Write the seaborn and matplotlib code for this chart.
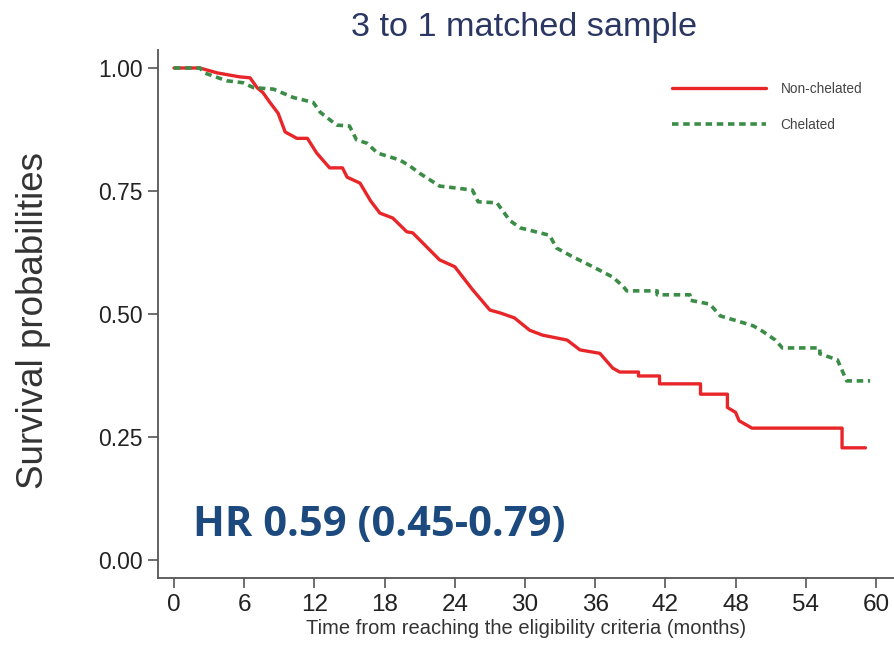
import pandas as pd
import seaborn as sns
import matplotlib.pyplot as plt

# Kaplan-Meier curves (months, survival probability)
non_chel_time = [0, 2.2, 3.7, 5.6, 6.5, 7.1, 7.6, 8.2, 8.9, 9.5, 10.5, 11.4, 12.2, 13.3, 14.4,
                 14.8, 15.9, 16.8, 17.6, 18.7, 19.9, 20.4, 22.7, 24.0, 25.5, 27.0, 27.9, 29.1,
                 30.4, 31.5, 33.6, 34.7, 36.4, 37.5, 38.1, 39.7, 39.7, 41.5, 41.5, 45.0, 45.0,
                 47.3, 47.3, 48.0, 48.3, 49.4, 57.1, 57.1, 59.1]
non_chel_surv = [1.0, 1.0, 0.99, 0.982, 0.98, 0.96, 0.95, 0.93, 0.908, 0.87, 0.857, 0.857, 0.827,
                 0.797, 0.797, 0.778, 0.766, 0.73, 0.705, 0.695, 0.667, 0.665, 0.61, 0.596, 0.55,
                 0.508, 0.502, 0.492, 0.467, 0.457, 0.447, 0.427, 0.42, 0.39, 0.382, 0.382, 0.374,
                 0.374, 0.358, 0.358, 0.337, 0.337, 0.31, 0.30, 0.283, 0.268, 0.268, 0.228, 0.228]

chel_time = [0, 2.2, 2.6, 4.5, 5.9, 6.8, 8.5, 10.2, 11.9, 12.5, 13.9, 15.0, 15.6, 16.5, 17.4,
             19.3, 20.2, 21.0, 22.7, 25.5, 26.0, 27.6, 28.7, 29.6, 32.1, 32.7, 34.1, 35.8, 37.5,
             38.4, 38.7, 41.3, 41.3, 44.1, 44.1, 45.8, 46.7, 48.4, 49.5, 50.3, 51.4, 52.0, 55.2,
             55.2, 56.7, 57.5, 59.5]
chel_surv = [1.0, 1.0, 0.99, 0.974, 0.97, 0.96, 0.957, 0.94, 0.93, 0.91, 0.884, 0.882, 0.854,
             0.847, 0.827, 0.813, 0.8, 0.786, 0.76, 0.752, 0.728, 0.726, 0.69, 0.675, 0.66, 0.634,
             0.616, 0.596, 0.575, 0.556, 0.547, 0.547, 0.539, 0.539, 0.528, 0.52, 0.496, 0.484,
             0.476, 0.465, 0.447, 0.431, 0.431, 0.419, 0.407, 0.364, 0.364]

x_ticks = [0, 6, 12, 18, 24, 30, 36, 42, 48, 54, 60]
y_ticks = [0.0, 0.25, 0.5, 0.75, 1.0]

sns.set_style("ticks")
plt.rcParams['font.family'] = ['Liberation Sans', 'DejaVu Sans']

fig = plt.figure(figsize=(8.94, 6.49), dpi=100)
ax = fig.add_axes([0.1767, 0.1094, 0.8233, 0.8136])

sns.lineplot(x=non_chel_time, y=non_chel_surv, sort=False, estimator=None, ax=ax,
             color='#e8262a', linewidth=2.4, label='Non-chelated')
sns.lineplot(x=chel_time, y=chel_surv, sort=False, estimator=None, ax=ax,
             color='#3a8c46', linewidth=2.6, linestyle=(0, (1.8, 1.3)), label='Chelated')

ax.set_xlim(-1.37, 61.54)
ax.set_ylim(-0.0366, 1.0366)
ax.set_xticks(x_ticks)
ax.set_yticks(y_ticks)
ax.set_yticklabels([f'{v:.2f}' for v in y_ticks])
ax.tick_params(axis='both', length=7.5, width=1.2, color='#555555', labelcolor='#222222')
ax.tick_params(axis='x', labelsize=17.5, pad=4)
ax.tick_params(axis='y', labelsize=16.5, pad=3.5)
sns.despine(ax=ax)
for s in ['left', 'bottom']:
    ax.spines[s].set_color('#555555')
    ax.spines[s].set_linewidth(1.3)

ax.set_xlabel('Time from reaching the eligibility criteria (months)', fontsize=14.5,
              color='#333333')
ax.xaxis.set_label_coords(0.5, -0.077)
ax.set_ylabel('Survival probabilities', fontsize=26.5, color='#333333')
ax.yaxis.set_label_coords(-0.145, 0.487)
fig.text(0.586, 0.957, '3 to 1 matched sample', ha='center', va='center',
         fontsize=24.7, color='#2b3763')

ax.text(0.047, 0.099, 'HR 0.59 (0.45-0.79)', transform=ax.transAxes, fontsize=30,
        fontweight='bold', color='#1c4a7e', family='Open Sans', va='center')

ax.legend(loc='upper right', bbox_to_anchor=(0.957, 0.939), frameon=False, fontsize=9.8,
          borderpad=0, borderaxespad=0, handlelength=6.9, handletextpad=1.1,
          labelspacing=1.6, labelcolor='#444444')

fig.savefig('out.png', dpi=100)
